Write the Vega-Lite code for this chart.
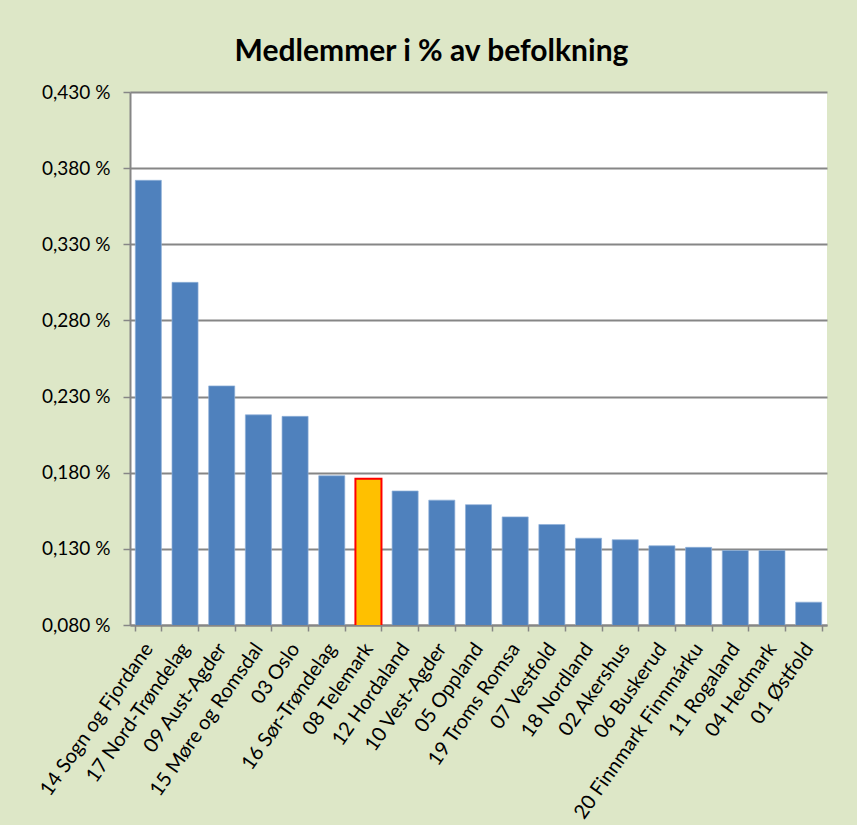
{
  "$schema": "https://vega.github.io/schema/vega-lite/v6.json",
  "autosize": {"type": "none"},
  "width": 697,
  "height": 533,
  "padding": {"left": 130, "top": 92, "right": 30, "bottom": 200},
  "background": "#dde7c7",
  "title": {
    "text": "Medlemmer i % av befolkning",
    "font": "Lato",
    "fontSize": 30,
    "fontWeight": "bold",
    "color": "#000000",
    "anchor": "middle",
    "frame": "group",
    "baseline": "alphabetic",
    "offset": 30,
    "dy": 38,
    "dx": -47
  },
  "data": {
    "values": [
      {"fylke": "14 Sogn og Fjordane", "andel": 0.372},
      {"fylke": "17 Nord-Trøndelag", "andel": 0.305},
      {"fylke": "09 Aust-Agder", "andel": 0.237},
      {"fylke": "15 Møre og Romsdal", "andel": 0.218},
      {"fylke": "03 Oslo", "andel": 0.217},
      {"fylke": "16 Sør-Trøndelag", "andel": 0.178},
      {"fylke": "08 Telemark", "andel": 0.176},
      {"fylke": "12 Hordaland", "andel": 0.168},
      {"fylke": "10 Vest-Agder", "andel": 0.162},
      {"fylke": "05 Oppland", "andel": 0.159},
      {"fylke": "19 Troms Romsa", "andel": 0.151},
      {"fylke": "07 Vestfold", "andel": 0.146},
      {"fylke": "18 Nordland", "andel": 0.137},
      {"fylke": "02 Akershus", "andel": 0.136},
      {"fylke": "06 Buskerud", "andel": 0.132},
      {"fylke": "20 Finnmark Finnmárku", "andel": 0.131},
      {"fylke": "11 Rogaland", "andel": 0.129},
      {"fylke": "04 Hedmark", "andel": 0.129},
      {"fylke": "01 Østfold", "andel": 0.095}
    ]
  },
  "mark": {"type": "bar", "clip": true},
  "encoding": {
    "x": {
      "field": "fylke",
      "type": "nominal",
      "sort": null,
      "scale": {"paddingInner": 0.29, "paddingOuter": 0.145},
      "axis": {
        "title": null,
        "labelAngle": -55,
        "labelAlign": "right",
        "labelBaseline": "middle",
        "labelPadding": 14,
        "labelFont": "Lato",
        "labelFontSize": 20,
        "labelColor": "#000000",
        "labelLimit": 400,
        "tickBand": "extent",
        "tickSize": 6,
        "tickColor": "#868686",
        "tickWidth": 1.5,
        "domainColor": "#868686",
        "domainWidth": 2,
        "grid": false
      }
    },
    "y": {
      "field": "andel",
      "type": "quantitative",
      "scale": {"domain": [0.08, 0.43], "nice": false, "zero": false},
      "axis": {
        "title": null,
        "values": [0.08, 0.13, 0.18, 0.23, 0.28, 0.33, 0.38, 0.43],
        "labelExpr": "replace(format(datum.value, '.3f'), '.', ',') + ' %'",
        "labelFont": "Lato",
        "labelFontSize": 19,
        "labelColor": "#000000",
        "labelPadding": 13,
        "tickSize": 7,
        "tickColor": "#868686",
        "tickWidth": 1.5,
        "domainColor": "#868686",
        "domainWidth": 2,
        "gridColor": "#868686",
        "gridWidth": 2
      }
    },
    "color": {
      "condition": {"test": "datum.fylke === '08 Telemark'", "value": "#FFC000"},
      "value": "#4F81BD"
    },
    "stroke": {
      "condition": {"test": "datum.fylke === '08 Telemark'", "value": "#FF0000"},
      "value": "#8FB0D8"
    },
    "strokeWidth": {
      "condition": {"test": "datum.fylke === '08 Telemark'", "value": 2},
      "value": 0.7
    }
  },
  "config": {
    "view": {"fill": "#FFFFFF", "stroke": null},
    "font": "Lato"
  }
}
